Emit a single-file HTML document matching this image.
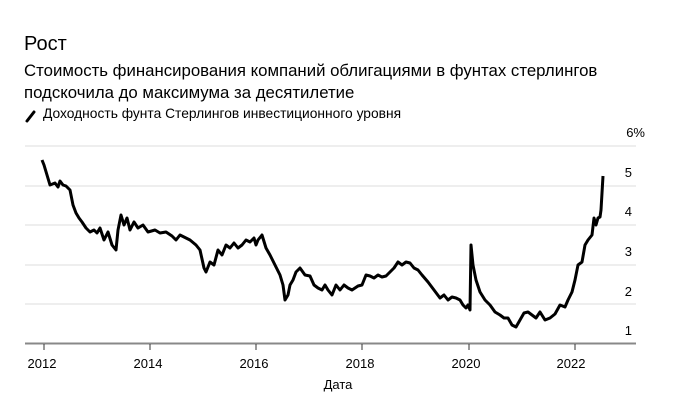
<!DOCTYPE html>
<html><head><meta charset="utf-8"><style>
body{margin:0;background:#fff;width:683px;height:419px;overflow:hidden;font-family:"Liberation Sans",sans-serif;color:#000}
.t{position:absolute;left:24px;top:33px;font-size:20px}
.s{position:absolute;left:24px;top:60px;font-size:16.8px;line-height:22px}
.l{position:absolute;left:43px;top:106px;font-size:13.8px}
</style></head><body>
<div class="t">Рост</div>
<div class="s">Стоимость финансирования компаний облигациями в фунтах стерлингов<br>подскочила до максимума за десятилетие</div>
<svg width="683" height="419" style="position:absolute;left:0;top:0">
<line x1="27" y1="121" x2="34" y2="112" stroke="#000" stroke-width="3" stroke-linecap="round"/>
<g stroke="#ddd" stroke-width="1">
<line x1="25" x2="636" y1="146" y2="146"/><line x1="25" x2="636" y1="186" y2="186"/>
<line x1="25" x2="636" y1="225" y2="225"/><line x1="25" x2="636" y1="265" y2="265"/>
<line x1="25" x2="636" y1="304" y2="304"/></g>
<line x1="25" x2="636" y1="343.5" y2="343.5" stroke="#888" stroke-width="2"/>
<g stroke="#333" stroke-width="1">
<line x1="44" x2="44" y1="344" y2="350"/><line x1="150" x2="150" y1="344" y2="350"/>
<line x1="256" x2="256" y1="344" y2="350"/><line x1="362" x2="362" y1="344" y2="350"/>
<line x1="469" x2="469" y1="344" y2="350"/><line x1="575" x2="575" y1="344" y2="350"/></g>
<g font-size="13" text-anchor="middle" font-family="Liberation Sans">
<text x="42" y="368">2012</text><text x="148" y="368">2014</text><text x="254" y="368">2016</text>
<text x="360" y="368">2018</text><text x="466" y="368">2020</text><text x="571" y="368">2022</text>
<text x="338" y="389">Дата</text></g>
<g font-size="13" text-anchor="end" font-family="Liberation Sans">
<text x="645" y="137">6%</text><text x="632" y="177">5</text><text x="632" y="216">4</text>
<text x="632" y="256">3</text><text x="632" y="296">2</text><text x="632" y="335">1</text></g>
<polyline fill="none" stroke="#000" stroke-width="3" stroke-linejoin="round" points="42,160 44,165 47,175 50,185 55,183 58,187 60,181 63,185 66,186 70,190 73,205 76,213 79,218 82,222 86,228 90,232 94,230 97,233 100,228 104,240 108,232 112,245 116,250 118,230 121,215 124,225 127,218 130,230 134,222 138,228 143,225 148,232 155,230 160,233 166,232 172,236 176,240 180,235 186,238 190,240 196,245 200,250 204,268 206,272 210,262 214,265 218,250 222,255 226,245 230,248 234,243 238,248 242,245 246,240 250,242 254,238 256,245 258,240 262,235 266,248 270,255 275,265 280,275 283,285 285,300 288,295 290,285 293,280 296,272 300,268 305,275 310,276 314,285 318,288 322,290 325,285 328,290 332,295 336,285 340,290 344,285 348,288 352,290 355,288 358,286 362,285 366,275 370,276 374,278 378,275 382,277 386,276 390,272 394,268 398,262 402,265 406,262 410,263 414,268 418,270 422,275 428,282 434,290 440,298 444,295 448,300 452,297 456,298 460,300 463,305 466,308 468,305 470,310 471,245 473,265 476,280 480,292 485,300 490,305 495,312 500,315 504,318 508,318 512,325 516,327 520,320 524,313 528,312 532,315 536,318 540,312 545,320 550,318 555,314 560,305 565,307 568,300 572,292 575,280 578,265 582,262 585,245 588,240 592,235 594,218 596,225 598,218 600,217 601,210 603,176"/>
</svg>
<div class="l">Доходность фунта Стерлингов инвестиционного уровня</div>
</body></html>
